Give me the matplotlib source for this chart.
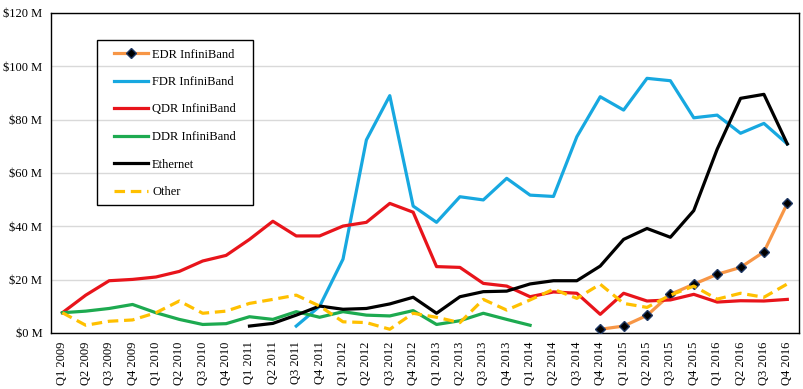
import matplotlib
matplotlib.use("Agg")
import matplotlib.pyplot as plt
from matplotlib.patches import Rectangle
import numpy as np

quarters = [f"Q{q} {y}" for y in range(2009, 2017) for q in range(1, 5)]
nan = np.nan

edr = [nan]*23 + [1.4, 2.6, 6.6, 14.5, 18.3, 22.0, 24.6, 30.4, 48.6]
fdr = [nan]*10 + [2.6, 10.0, 27.7, 72.4, 89.0, 47.6, 41.5, 51.1, 49.9, 58.0, 51.7,
                  51.2, 73.6, 88.6, 83.6, 95.5, 94.6, 80.7, 81.7, 74.9, 78.6, 70.9]
qdr = [7.6, 14.2, 19.6, 20.1, 21.0, 23.1, 27.0, 29.1, 35.1, 41.9, 36.4, 36.4, 40.1,
       41.5, 48.6, 45.3, 24.9, 24.6, 18.6, 17.6, 13.6, 15.4, 14.9, 7.0, 14.9, 12.0,
       12.4, 14.5, 11.6, 12.1, 12.0, 12.6]
ddr = [7.6, 8.2, 9.2, 10.7, 7.6, 5.1, 3.2, 3.5, 6.1, 5.1, 8.0, 5.9, 8.0, 6.7, 6.4,
       8.4, 3.2, 4.6, 7.4, 5.1, 2.9] + [nan]*11
ethernet = [nan]*8 + [2.6, 3.6, 6.7, 10.1, 8.9, 9.2, 10.9, 13.4, 7.4, 13.6, 15.5,
                      15.7, 18.4, 19.6, 19.6, 25.1, 35.1, 39.2, 35.9, 45.9, 68.9,
                      88.0, 89.5, 70.9]
other = [7.6, 2.9, 4.4, 4.9, 7.6, 12.0, 7.4, 8.2, 11.1, 12.6, 14.2, 10.1, 4.2, 3.9,
         1.4, 7.4, 5.9, 3.9, 12.6, 8.6, 12.4, 16.4, 13.0, 18.3, 11.1, 9.6, 14.2,
         17.6, 12.7, 14.9, 13.4, 18.4]
yticks = [0, 20, 40, 60, 80, 100, 120]
ytick_labels = [f"${v} M" for v in yticks]

plt.rcParams['font.family'] = ['Liberation Serif', 'DejaVu Serif']
fig = plt.figure(figsize=(8.04, 3.89), dpi=100)
ax = fig.add_axes([50.7/804, 1-333/389, (799-50.7)/804, (333-13)/389])

x = np.arange(len(quarters))
lw = 2.3
ax.plot(x, edr, color='#F79646', lw=lw, marker='D', markersize=5,
        markerfacecolor='black', markeredgecolor='#1F3864', label='EDR InfiniBand', zorder=3)
ax.plot(x, fdr, color='#17A8E0', lw=lw, label='FDR InfiniBand', zorder=3)
ax.plot(x, qdr, color='#E8141B', lw=lw, label='QDR InfiniBand', zorder=3)
ax.plot(x, ddr, color='#1DAA50', lw=lw, label='DDR InfiniBand', zorder=3)
ax.plot(x, ethernet, color='black', lw=lw, label='Ethernet', zorder=3)
ax.plot(x, other, color='#FFC000', lw=lw, dashes=(3.3, 1.8), label='Other', zorder=3)

ax.set_xlim(-0.5, len(quarters)-0.5)
ax.set_ylim(0, 120)
ax.set_yticks(yticks)
ax.set_yticklabels(ytick_labels, fontsize=9)
ax.set_xticks(x)
ax.set_xticklabels(quarters, rotation=90, fontsize=9)
ax.tick_params(axis='both', length=0)
ax.tick_params(axis='y', pad=6)
ax.tick_params(axis='x', pad=6)
ax.grid(axis='y', color='#D9D9D9', lw=1)
ax.set_axisbelow(True)
for s in ax.spines.values():
    s.set_color('black')
    s.set_linewidth(1.0)

fig.patches.append(Rectangle((97/804, 1-205/389), (253-97)/804, (205-40)/389,
                             transform=fig.transFigure, fill=False,
                             edgecolor='black', lw=1.0, zorder=5))
leg = ax.legend(loc='upper left', bbox_to_anchor=(114/804, 1-48.5/389),
                bbox_transform=fig.transFigure, frameon=False, fontsize=9,
                borderpad=0, borderaxespad=0, handlelength=2.75,
                handletextpad=0.3, labelspacing=1.24)

fig.savefig('out.png', dpi=100)
